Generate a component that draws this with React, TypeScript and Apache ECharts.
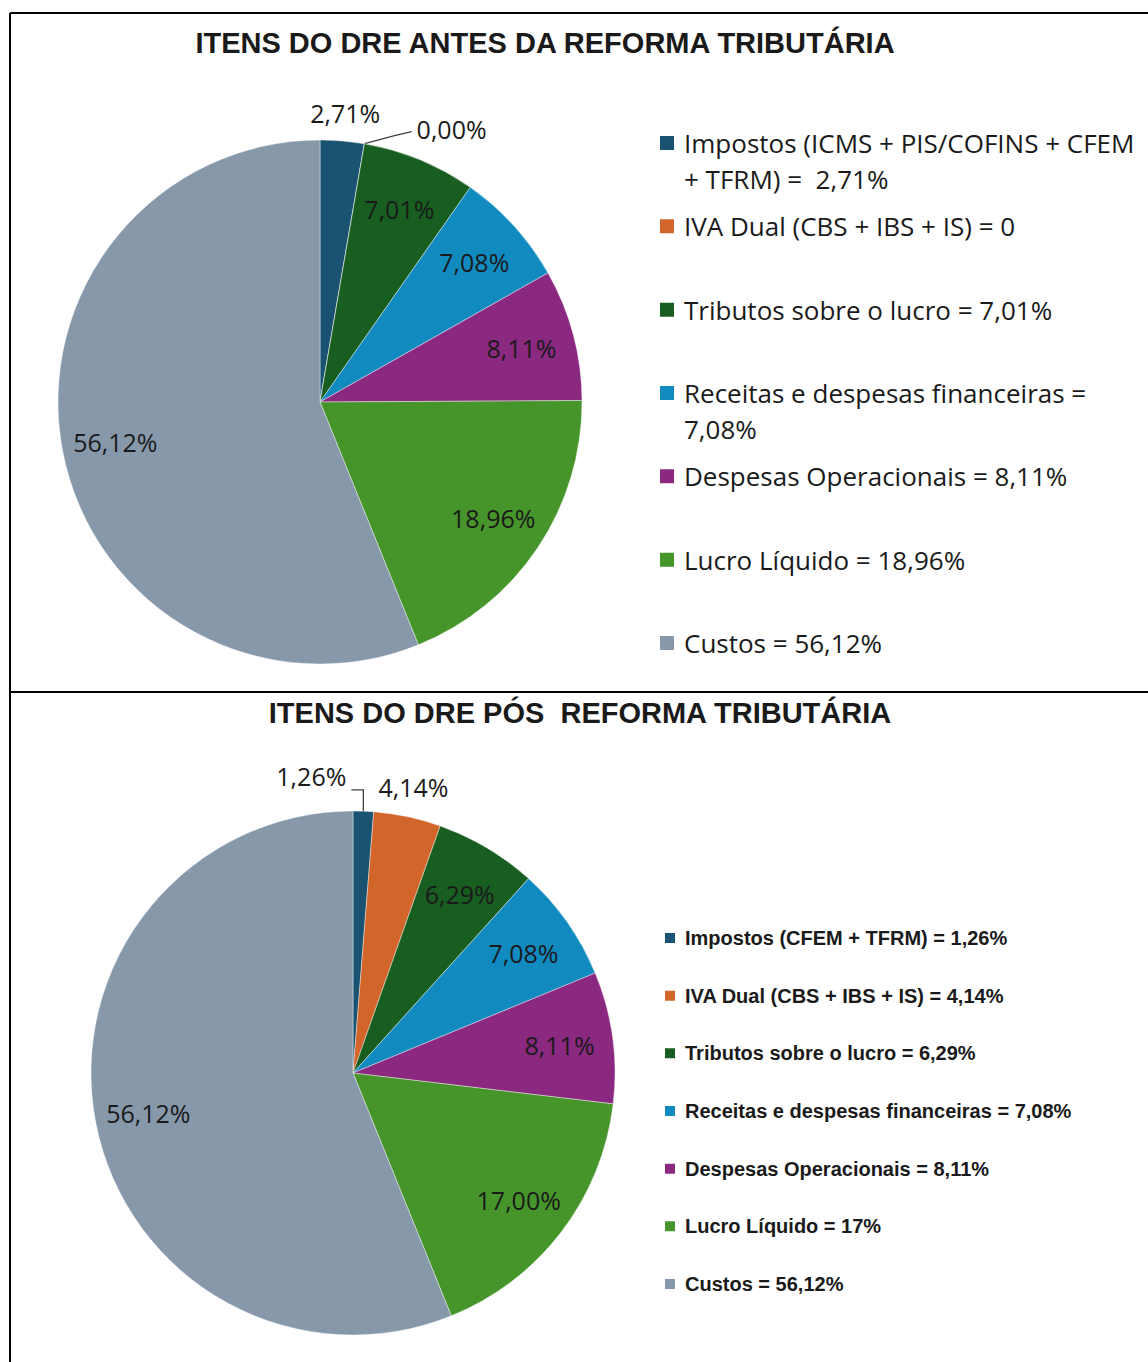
import React, { useEffect, useRef } from 'react';
import * as echarts from 'echarts';

const categories = ['Impostos', 'IVA Dual', 'Tributos sobre o lucro', 'Receitas e despesas financeiras', 'Despesas Operacionais', 'Lucro Líquido', 'Custos'];
const itemColors = ['#1A5372', '#D2652A', '#185E20', '#118AC0', '#8B2880', '#46952B', '#8798AB'];
const beforeValues = [2.71, 0, 7.01, 7.08, 8.11, 18.96, 56.12];
const afterValues = [1.26, 4.14, 6.29, 7.08, 8.11, 17.0, 56.12];
const beforeLegend = [
  'Impostos (ICMS + PIS/COFINS + CFEM\n+ TFRM) =  2,71%',
  'IVA Dual (CBS + IBS + IS) = 0',
  'Tributos sobre o lucro = 7,01%',
  'Receitas e despesas financeiras =\n7,08%',
  'Despesas Operacionais = 8,11%',
  'Lucro Líquido = 18,96%',
  'Custos = 56,12%',
];
const afterLegend = [
  'Impostos (CFEM + TFRM) = 1,26%',
  'IVA Dual (CBS + IBS + IS) = 4,14%',
  'Tributos sobre o lucro = 6,29%',
  'Receitas e despesas financeiras = 7,08%',
  'Despesas Operacionais = 8,11%',
  'Lucro Líquido = 17%',
  'Custos = 56,12%',
];
const titles = ['ITENS DO DRE ANTES DA REFORMA TRIBUTÁRIA', 'ITENS DO DRE PÓS  REFORMA TRIBUTÁRIA'];
const outerBefore = [0, 1];
const outerAfter = [0, 1];
const leaderBefore = [1];
const leaderAfter = [0];

const fmt = (v: number) => v.toFixed(2).replace('.', ',') + '%';
const LABEL_FONT = '"Open Sans", "Liberation Sans", sans-serif';
const BOLD_FONT = '"Liberation Sans", Arial, sans-serif';
const TEXT = '#1a1a1a';

function pieSeries(names: string[], values: number[], center: [number, number], R: number, outer: number[], leader: number[], layoutFn: any) {
  const main = {
    type: 'pie',
    center,
    radius: R,
    startAngle: 90,
    clockwise: true,
    avoidLabelOverlap: false,
    label: { show: false },
    labelLine: { show: false },
    itemStyle: { borderColor: '#ffffff', borderWidth: 0.4 },
    emphasis: { disabled: true },
    data: values.map((v, i) => ({
      name: names[i],
      value: v,
      itemStyle: { color: itemColors[i] },
      label: outer.includes(i)
        ? { show: true, position: 'outside', formatter: (p: any) => fmt(p.value), fontFamily: LABEL_FONT, fontSize: 25, color: TEXT }
        : { show: false },
      labelLine: { show: leader.includes(i), lineStyle: { color: '#404040', width: 1.3 } },
    })),
    labelLayout: layoutFn,
  };
  const overlay = {
    type: 'pie',
    center,
    radius: [Math.round(R * 0.57), R],
    startAngle: 90,
    clockwise: true,
    silent: true,
    legendHoverLink: false,
    avoidLabelOverlap: false,
    itemStyle: { color: 'rgba(0,0,0,0)' },
    emphasis: { disabled: true },
    labelLine: { show: false },
    data: values.map((v, i) => ({
      name: names[i],
      value: v,
      label: outer.includes(i)
        ? { show: false }
        : { show: true, position: 'inside', formatter: (p: any) => fmt(p.value), fontFamily: LABEL_FONT, fontSize: 25, color: TEXT },
    })),
  };
  return [main, overlay];
}

const layoutBefore = (p: any) => {
  const r = p.rect;
  if (p.dataIndex === 0) {
    return { x: r.x + r.width / 2 + 3, y: r.y - 27, align: 'center', verticalAlign: 'middle' };
  }
  if (p.dataIndex === 1) {
    const px = r.x + r.width;
    const py = r.y;
    return {
      x: px + 52, y: py - 15, align: 'left', verticalAlign: 'middle',
      labelLinePoints: [[px, py], [px + 30, py - 8], [px + 47, py - 12]],
    };
  }
  return {};
};

const layoutAfter = (p: any) => {
  const r = p.rect;
  if (p.dataIndex === 0) {
    const cx = r.x + r.width / 2;
    return {
      x: cx - 17, y: r.y - 35, align: 'right', verticalAlign: 'middle',
      labelLinePoints: [[cx, r.y + 1], [cx, r.y - 21], [cx - 12, r.y - 21]],
    };
  }
  if (p.dataIndex === 1) {
    return { x: r.x + r.width - 27, y: r.y - 25, align: 'center', verticalAlign: 'middle' };
  }
  return {};
};

function legends(names: string[], startY: number, step: number, left: number, icon: number, lh: number, textStyle: any) {
  return names.map((n, i) => {
    const c = startY + i * step;
    const multi = n.includes('\n');
    return {
      data: [{ name: n, icon: 'rect' }],
      orient: 'vertical',
      left,
      top: multi ? c - lh * 1.5 : c - lh / 2,
      padding: 0,
      itemWidth: icon,
      itemHeight: icon,
      selectedMode: false,
      formatter: multi ? (name: string) => ' \n' + name : undefined,
      textStyle: { ...textStyle, lineHeight: lh, padding: [0, 0, 0, 4] },
    };
  });
}

export default function App() {
  const ref = useRef<HTMLDivElement>(null);
  useEffect(() => {
    document.body.style.margin = '0';
    if (!ref.current) return;
    const chart = echarts.init(ref.current, null, { renderer: 'svg' });
    const option: any = {
      animation: false,
      backgroundColor: '#ffffff',
      title: [
        { text: titles[0], left: 545, top: 28, textAlign: 'center', padding: 0, textStyle: { fontFamily: BOLD_FONT, fontSize: 29, fontWeight: 'bold', color: TEXT } },
        { text: titles[1], left: 580, top: 698, textAlign: 'center', padding: 0, textStyle: { fontFamily: BOLD_FONT, fontSize: 29, fontWeight: 'bold', color: TEXT } },
      ],
      legend: [
        ...legends(beforeLegend, 143, 83.33, 658, 16, 36, { fontFamily: LABEL_FONT, fontSize: 26, color: TEXT }),
        ...legends(afterLegend, 938, 57.67, 663, 12, 24, { fontFamily: BOLD_FONT, fontSize: 20, fontWeight: 'bold', color: TEXT }),
      ],
      graphic: [
        { type: 'line', silent: true, shape: { x1: 10, y1: 13, x2: 1148, y2: 13 }, style: { stroke: '#000', lineWidth: 2 } },
        { type: 'line', silent: true, shape: { x1: 10, y1: 13, x2: 10, y2: 1362 }, style: { stroke: '#000', lineWidth: 2 } },
        { type: 'line', silent: true, shape: { x1: 10, y1: 692, x2: 1148, y2: 692 }, style: { stroke: '#000', lineWidth: 2 } },
      ],
      series: [
        ...pieSeries(beforeLegend, beforeValues, [320, 402], 262, outerBefore, leaderBefore, layoutBefore),
        ...pieSeries(afterLegend, afterValues, [353, 1073], 262, outerAfter, leaderAfter, layoutAfter),
      ],
    };
    chart.setOption(option);
    return () => chart.dispose();
  }, []);
  return <div ref={ref} style={{ width: 1148, height: 1362 }} data-categories={categories.join('|')} />;
}
